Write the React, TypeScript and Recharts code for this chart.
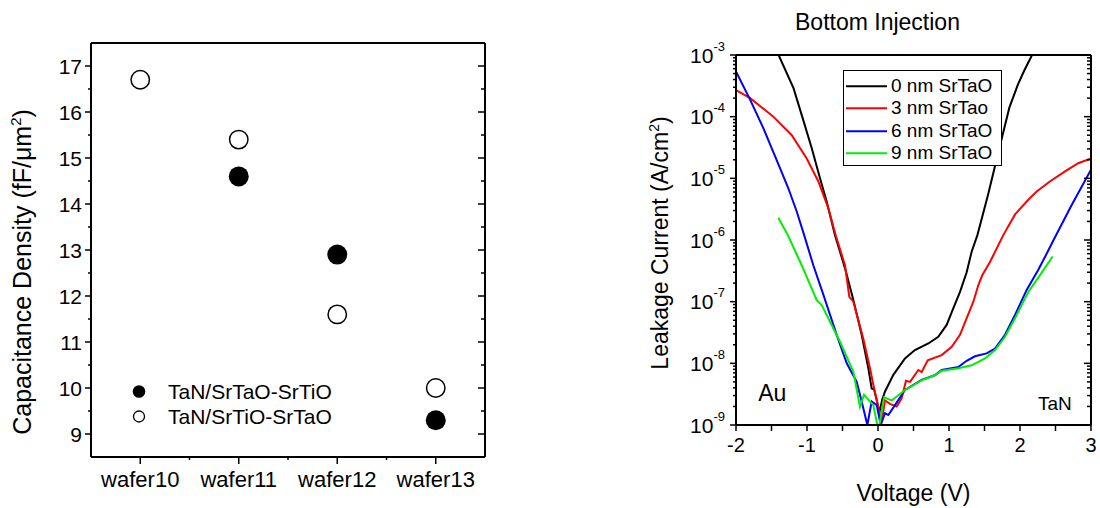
import React from "react";
import {
  ScatterChart,
  Scatter,
  LineChart,
  Line,
  XAxis,
  YAxis,
  Legend,
  ReferenceDot,
} from "recharts";

const FONT = "'Liberation Sans', Arial, Helvetica, sans-serif";

/* ---------- left panel data ---------- */
const wafers = ["wafer10", "wafer11", "wafer12", "wafer13"];
const capSrTaOSrTiO: (number | null)[] = [null, 14.6, 12.9, 9.3];
const capSrTiOSrTaO: (number | null)[] = [16.7, 15.4, 11.6, 10.0];
const capTicks = [9, 9.5, 10, 10.5, 11, 11.5, 12, 12.5, 13, 13.5, 14, 14.5, 15, 15.5, 16, 16.5, 17];
const waferTicks = [0, 0.5, 1, 1.5, 2, 2.5, 3];

/* ---------- right panel data (V, A/cm2) ---------- */
const volt0 = [-1.4, -1.19, -1.075, -0.934, -0.817, -0.723, -0.606, -0.465, -0.347, -0.23, -0.136, -0.089, -0.056, -0.02, 0.02, 0.06, 0.099, 0.216, 0.38, 0.52, 0.709, 0.849, 0.967, 1.06, 1.155, 1.249, 1.318, 1.4, 1.55, 1.7, 1.85, 1.97, 2.06, 2.17];
const leak0 = [1e-3, 2.9e-4, 1.07e-4, 3.1e-5, 1e-5, 4.2e-6, 1.2e-6, 3.5e-7, 1.06e-7, 2.9e-8, 8.3e-9, 3.9e-9, 3.8e-9, 2.6e-9, 1.6e-9, 2.6e-9, 3.5e-9, 6.5e-9, 1.2e-8, 1.64e-8, 2.1e-8, 2.7e-8, 4.2e-8, 7.8e-8, 1.44e-7, 3.0e-7, 6.4e-7, 1.2e-6, 5.4e-6, 2.8e-5, 1.4e-4, 3.3e-4, 5.6e-4, 1e-3];

const volt3 = [-2, -1.8, -1.474, -1.215, -1.004, -0.84, -0.7, -0.592, -0.465, -0.404, -0.347, -0.207, -0.113, -0.066, 0.005, 0.05, 0.099, 0.169, 0.263, 0.333, 0.394, 0.451, 0.568, 0.615, 0.7, 0.897, 1.038, 1.155, 1.249, 1.343, 1.413, 1.47, 1.577, 1.765, 1.93, 2.117, 2.235, 2.42, 2.634, 2.82, 3.0];
const leak3 = [2.7e-4, 2.0e-4, 1.0e-4, 5.0e-5, 2.1e-5, 8.9e-6, 3.3e-6, 1.15e-6, 3.9e-7, 1.2e-7, 1.0e-7, 2.5e-8, 8.3e-9, 4.5e-9, 1.9e-9, 1.1e-9, 2.5e-9, 2.2e-9, 2.0e-9, 2.7e-9, 5.2e-9, 5.0e-9, 7.8e-9, 7.2e-9, 1.12e-8, 1.36e-8, 1.86e-8, 2.9e-8, 5.4e-8, 1.0e-7, 1.86e-7, 2.7e-7, 4.4e-7, 1.2e-6, 2.6e-6, 4.5e-6, 6.1e-6, 8.9e-6, 1.3e-5, 1.76e-5, 2.1e-5];

const volt6 = [-2, -1.8, -1.615, -1.38, -1.263, -1.145, -1.04, -0.911, -0.77, -0.582, -0.44, -0.3, -0.23, -0.15, -0.089, -0.018, 0.038, 0.099, 0.146, 0.239, 0.38, 0.615, 0.8, 0.897, 1.131, 1.249, 1.366, 1.53, 1.648, 1.789, 1.93, 2.094, 2.258, 2.4, 2.5, 2.728, 3.0];
const leak6 = [5.4e-4, 1.87e-4, 6.5e-5, 1.46e-5, 6.9e-6, 2.9e-6, 1.2e-6, 3.9e-7, 1.3e-7, 2.9e-8, 1e-8, 5e-9, 2.4e-9, 1e-9, 2.4e-9, 2.1e-9, 1e-9, 1.55e-9, 1.45e-9, 2.1e-9, 3.7e-9, 5.4e-9, 6.4e-9, 7.8e-9, 8.7e-9, 1.1e-8, 1.3e-8, 1.45e-8, 1.74e-8, 2.9e-8, 6.1e-8, 1.55e-7, 3.3e-7, 6.8e-7, 1.15e-6, 3.7e-6, 1.38e-5];

const volt9 = [-1.404, -1.27, -1.075, -0.863, -0.793, -0.535, -0.347, -0.254, -0.197, -0.113, -0.066, -0.01, 0.02, 0.085, 0.193, 0.38, 0.615, 0.8, 0.897, 1.131, 1.318, 1.507, 1.648, 1.789, 1.93, 2.117, 2.282, 2.46];
const leak9 = [2.3e-6, 1.2e-6, 3.9e-7, 1.06e-7, 8.8e-8, 2.24e-8, 7.3e-9, 1.97e-9, 3.1e-9, 2.4e-9, 2.1e-9, 1e-9, 1e-9, 2.8e-9, 2.5e-9, 3.7e-9, 5.3e-9, 6.4e-9, 7.6e-9, 8.3e-9, 9.3e-9, 1.2e-8, 1.64e-8, 2.7e-8, 5.4e-8, 1.44e-7, 2.7e-7, 5.4e-7];

const voltTicks = [-2, -1.5, -1, -0.5, 0, 0.5, 1, 1.5, 2, 2.5, 3];
const decades = [-9, -8, -7, -6, -5, -4, -3];

/* ---------- derived tables ---------- */
const capPoints = (vals: (number | null)[]) =>
  vals
    .map((c, i) => ({ pos: i, cap: c }))
    .filter((d) => d.cap !== null);

const capSeries = [
  { name: "TaN/SrTaO-SrTiO", filled: true, data: capPoints(capSrTaOSrTiO) },
  { name: "TaN/SrTiO-SrTaO", filled: false, data: capPoints(capSrTiOSrTaO) },
];

const ivPoints = (v: number[], j: number[]) => v.map((x, i) => ({ v: x, j: j[i] }));

const ivSeries = [
  { name: "0 nm SrTaO", color: "#000000", data: ivPoints(volt0, leak0) },
  { name: "3 nm SrTao", color: "#ff0000", data: ivPoints(volt3, leak3) },
  { name: "6 nm SrTaO", color: "#0000ff", data: ivPoints(volt6, leak6) },
  { name: "9 nm SrTaO", color: "#00ee00", data: ivPoints(volt9, leak9) },
];

const logTicks: number[] = [];
decades.forEach((d) => {
  logTicks.push(Math.pow(10, d));
  if (d < -3) for (let k = 2; k <= 9; k++) logTicks.push(k * Math.pow(10, d));
});
const isDecade = (v: number) => Math.abs(Math.log10(v) - Math.round(Math.log10(v))) < 1e-6;

/* ---------- tick renderers (tickSize=0 -> x/y sit on the axis line) ---------- */
type TickProps = { x?: number; y?: number; payload?: { value: number } };
const TICK = { stroke: "#000", strokeWidth: 1.5 };

const CapLeftTick = ({ x = 0, y = 0, payload }: TickProps) => {
  const v = payload!.value;
  const major = Number.isInteger(v);
  return (
    <g>
      <line x1={x - (major ? 6 : 3)} x2={x} y1={y} y2={y} {...TICK} />
      {major && (
        <text x={x - 9} y={y + 7.5} textAnchor="end" fontSize={21} fill="#000">
          {v}
        </text>
      )}
    </g>
  );
};
const CapRightTick = ({ x = 0, y = 0, payload }: TickProps) => {
  const major = Number.isInteger(payload!.value);
  return <line x1={x} x2={x - (major ? 7 : 4)} y1={y} y2={y} {...TICK} />;
};
const WaferBottomTick = ({ x = 0, y = 0, payload }: TickProps) => {
  const v = payload!.value;
  const major = Number.isInteger(v);
  return (
    <g>
      <line x1={x} x2={x} y1={y} y2={y + (major ? 7 : 3)} {...TICK} />
      {major && (
        <text x={x} y={y + 30} textAnchor="middle" fontSize={22} fill="#000">
          {wafers[v]}
        </text>
      )}
    </g>
  );
};
const WaferTopTick = ({ x = 0, y = 0, payload }: TickProps) => {
  const major = Number.isInteger(payload!.value);
  return <line x1={x} x2={x} y1={y} y2={y + (major ? 7 : 4)} {...TICK} />;
};

const LogLeftTick = ({ x = 0, y = 0, payload }: TickProps) => {
  const v = payload!.value;
  const major = isDecade(v);
  return (
    <g>
      <line x1={x - (major ? 6 : 3)} x2={x} y1={y} y2={y} {...TICK} />
      {major && (
        <text x={x - 11} y={y + 7.5} textAnchor="end" fontSize={21} fill="#000">
          10
          <tspan dy={-12} fontSize={13}>
            {Math.round(Math.log10(v))}
          </tspan>
        </text>
      )}
    </g>
  );
};
const LogRightTick = ({ x = 0, y = 0, payload }: TickProps) => {
  const major = isDecade(payload!.value);
  return <line x1={x} x2={x - (major ? 7 : 4)} y1={y} y2={y} {...TICK} />;
};
const VoltBottomTick = ({ x = 0, y = 0, payload }: TickProps) => {
  const v = payload!.value;
  return (
    <g>
      <line x1={x} x2={x} y1={y} y2={y + 6} {...TICK} />
      {Number.isInteger(v) && (
        <text x={x} y={y + 27} textAnchor="middle" fontSize={20} fill="#000">
          {v}
        </text>
      )}
    </g>
  );
};
const VoltTopTick = ({ x = 0, y = 0 }: TickProps) => (
  <line x1={x} x2={x} y1={y} y2={y + 6} {...TICK} />
);

/* ---------- axis titles ---------- */
const capYTitle = (p: any) => {
  const vb = p.viewBox;
  const x = vb.x + vb.width - 60;
  const y = vb.y + vb.height / 2 + 22;
  return (
    <text x={x} y={y} transform={`rotate(-90, ${x}, ${y})`} textAnchor="middle" fontSize={25} fill="#000">
      Capacitance Density (fF/μm
      <tspan dy={-10} fontSize={15}>2</tspan>
      <tspan dy={10}>)</tspan>
    </text>
  );
};
const leakYTitle = (p: any) => {
  const vb = p.viewBox;
  const x = vb.x + vb.width - 68;
  const y = vb.y + vb.height / 2 + 3;
  return (
    <text x={x} y={y} transform={`rotate(-90, ${x}, ${y})`} textAnchor="middle" fontSize={23} fill="#000">
      Leakage Current (A/cm
      <tspan dy={-9} fontSize={14}>2</tspan>
      <tspan dy={9}>)</tspan>
    </text>
  );
};
const voltXTitle = (p: any) => {
  const vb = p.viewBox;
  return (
    <text x={vb.x + vb.width / 2} y={vb.y + 76} textAnchor="middle" fontSize={23} fill="#000">
      Voltage (V)
    </text>
  );
};
const ivTitle = (p: any) => {
  const vb = p.viewBox;
  return (
    <text x={vb.x + vb.width / 2 - 36} y={vb.y - 24} textAnchor="middle" fontSize={23} fill="#000">
      Bottom Injection
    </text>
  );
};

/* ---------- legends ---------- */
const CapLegend = () => (
  <div style={{ fontFamily: FONT, fontSize: 21, color: "#000", lineHeight: "25px" }}>
    {capSeries.map((s) => (
      <div key={s.name} style={{ display: "flex", alignItems: "center", height: 25 }}>
        <svg width={38} height={25} style={{ flex: "none" }}>
          <circle
            cx={9}
            cy={12.5}
            r={s.filled ? 6.3 : 5.5}
            fill={s.filled ? "#000" : "#fff"}
            stroke="#000"
            strokeWidth={s.filled ? 0 : 1.3}
          />
        </svg>
        <span style={{ whiteSpace: "nowrap" }}>{s.name}</span>
      </div>
    ))}
  </div>
);

const ROW = 22.3;
const IvLegend = () => (
  <div
    style={{
      fontFamily: FONT,
      fontSize: 19,
      color: "#000",
      border: "1.5px solid #000",
      width: 159,
      height: 96,
      boxSizing: "border-box",
      paddingTop: 4,
      background: "#fff",
    }}
  >
    {ivSeries.map((s) => (
      <div key={s.name} style={{ position: "relative", height: ROW }}>
        <svg width={46} height={ROW} style={{ position: "absolute", left: 0, top: 0 }}>
          <line x1={2} x2={43} y1={ROW / 2} y2={ROW / 2} stroke={s.color} strokeWidth={2} />
        </svg>
        <span style={{ position: "absolute", left: 47, top: 0, lineHeight: `${ROW}px`, whiteSpace: "nowrap" }}>
          {s.name}
        </span>
      </div>
    ))}
  </div>
);

/* ---------- component ---------- */
export default function App() {
  const frame = { stroke: "#000", strokeWidth: 2 };
  return (
    <div
      style={{
        position: "absolute",
        left: 0,
        top: 0,
        width: 1100,
        height: 508,
        background: "#fff",
        fontFamily: FONT,
      }}
    >
      <div style={{ position: "absolute", left: 0, top: 0 }}>
        <ScatterChart width={500} height={508} margin={{ top: 42, right: 14, bottom: 0, left: 0 }} style={{ fontFamily: FONT }}>
          <XAxis
            type="number"
            dataKey="pos"
            domain={[-0.5, 3.5]}
            ticks={waferTicks}
            interval={0}
            allowDataOverflow
            height={51}
            tickSize={0}
            tickMargin={0}
            tickLine={false}
            axisLine={frame}
            tick={<WaferBottomTick />}
          />
          <XAxis
            xAxisId="top"
            orientation="top"
            type="number"
            domain={[-0.5, 3.5]}
            ticks={waferTicks}
            interval={0}
            allowDataOverflow
            height={1}
            tickSize={0}
            tickMargin={0}
            tickLine={false}
            axisLine={frame}
            tick={<WaferTopTick />}
          />
          <YAxis
            type="number"
            dataKey="cap"
            domain={[8.5, 17.5]}
            ticks={capTicks}
            interval={0}
            allowDataOverflow
            width={91}
            tickSize={0}
            tickMargin={0}
            tickLine={false}
            axisLine={frame}
            tick={<CapLeftTick />}
            label={{ content: capYTitle }}
          />
          <YAxis
            yAxisId="right"
            orientation="right"
            type="number"
            domain={[8.5, 17.5]}
            ticks={capTicks}
            interval={0}
            allowDataOverflow
            width={1}
            tickSize={0}
            tickMargin={0}
            tickLine={false}
            axisLine={frame}
            tick={<CapRightTick />}
          />
          {capSeries.map((s) => (
            <Scatter
              key={s.name}
              name={s.name}
              data={s.data}
              isAnimationActive={false}
              shape={(p: any) =>
                s.filled ? (
                  <circle cx={p.cx} cy={p.cy} r={10} fill="#000" />
                ) : (
                  <circle cx={p.cx} cy={p.cy} r={9.2} fill="#fff" stroke="#000" strokeWidth={1.5} />
                )
              }
            />
          ))}
          <Legend
            layout="vertical"
            align="center"
            verticalAlign="middle"
            content={<CapLegend />}
            wrapperStyle={{ left: 130, top: 379, width: 260, height: 50 }}
          />
        </ScatterChart>
      </div>

      <div style={{ position: "absolute", left: 600, top: 0 }}>
        <LineChart width={500} height={508} margin={{ top: 54, right: 8, bottom: 0, left: 0 }} style={{ fontFamily: FONT }}>
          <XAxis
            type="number"
            dataKey="v"
            domain={[-2, 3]}
            ticks={voltTicks}
            interval={0}
            allowDataOverflow
            height={83}
            tickSize={0}
            tickMargin={0}
            tickLine={false}
            axisLine={frame}
            tick={<VoltBottomTick />}
            label={{ content: voltXTitle }}
          />
          <XAxis
            xAxisId="top"
            orientation="top"
            type="number"
            domain={[-2, 3]}
            ticks={voltTicks}
            interval={0}
            allowDataOverflow
            height={1}
            tickSize={0}
            tickMargin={0}
            tickLine={false}
            axisLine={frame}
            tick={<VoltTopTick />}
            label={{ content: ivTitle }}
          />
          <YAxis
            type="number"
            scale="log"
            dataKey="j"
            domain={[1e-9, 1e-3]}
            ticks={logTicks}
            interval={0}
            allowDataOverflow
            width={136}
            tickSize={0}
            tickMargin={0}
            tickLine={false}
            axisLine={frame}
            tick={<LogLeftTick />}
            label={{ content: leakYTitle }}
          />
          <YAxis
            yAxisId="right"
            orientation="right"
            type="number"
            scale="log"
            domain={[1e-9, 1e-3]}
            ticks={logTicks}
            interval={0}
            allowDataOverflow
            width={1}
            tickSize={0}
            tickMargin={0}
            tickLine={false}
            axisLine={frame}
            tick={<LogRightTick />}
          />
          {ivSeries.map((s) => (
            <Line
              key={s.name}
              name={s.name}
              data={s.data}
              dataKey="j"
              type="linear"
              stroke={s.color}
              strokeWidth={2}
              dot={false}
              isAnimationActive={false}
            />
          ))}
          <ReferenceDot x={-1.49} y={3.37e-9} r={0} stroke="none" label={{ value: "Au", position: "center", fontSize: 23, fill: "#000" }} />
          <ReferenceDot x={2.49} y={2.22e-9} r={0} stroke="none" label={{ value: "TaN", position: "center", fontSize: 19, fill: "#000" }} />
          <Legend
            layout="vertical"
            align="center"
            verticalAlign="middle"
            content={<IvLegend />}
            wrapperStyle={{ left: 243, top: 70, width: 159, height: 96 }}
          />
        </LineChart>
      </div>
    </div>
  );
}
